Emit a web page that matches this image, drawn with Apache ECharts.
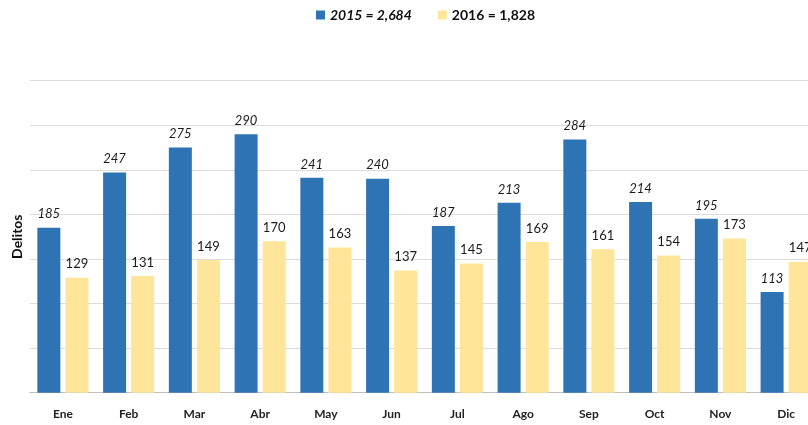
<!DOCTYPE html>
<html>
<head>
<meta charset="utf-8">
<script src="https://cdn.jsdelivr.net/npm/echarts@6/dist/echarts.min.js"></script>
<style>
  html, body { margin: 0; padding: 0; background: #ffffff; }
  #chart { width: 808px; height: 425px; }
</style>
</head>
<body>
<div id="chart"></div>
<script>
// Monthly crime counts, 2015 vs 2016
const months = ['Ene', 'Feb', 'Mar', 'Abr', 'May', 'Jun', 'Jul', 'Ago', 'Sep', 'Oct', 'Nov', 'Dic'];
const values2015 = [185, 247, 275, 290, 241, 240, 187, 213, 284, 214, 195, 113];
const values2016 = [129, 131, 149, 170, 163, 137, 145, 169, 161, 154, 173, 147];
const yTicks = { min: 0, max: 350, interval: 50 };

const sum = arr => arr.reduce((a, b) => a + b, 0);
const fmt = n => n.toLocaleString('en-US');
const name2015 = '2015 = ' + fmt(sum(values2015));
const name2016 = '2016 = ' + fmt(sum(values2016));

const FONT = 'Lato';
const chart = echarts.init(document.getElementById('chart'), null, { renderer: 'canvas' });

chart.setOption({
  animation: false,
  backgroundColor: '#ffffff',
  textStyle: { fontFamily: FONT },
  legend: {
    top: 3,
    left: 311,
    itemWidth: 9,
    itemHeight: 9,
    itemGap: 26,
    icon: 'rect',
    data: [name2015, name2016],
    formatter: function (name) {
      return name === name2015 ? '{i|' + name + '}' : '{n|' + name + '}';
    },
    textStyle: {
      rich: {
        i: { fontFamily: FONT, fontSize: 14, fontWeight: 'bold', fontStyle: 'italic', color: '#111' },
        n: { fontFamily: FONT, fontSize: 14, fontWeight: 'bold', color: '#111' }
      }
    }
  },
  // the plot runs past the right edge, so the last bar is clipped
  grid: { left: 30, top: 80.7, width: 789, height: 312, containLabel: false, outerBoundsMode: 'none' },
  xAxis: {
    type: 'category',
    data: months,
    axisLine: { lineStyle: { color: '#bfbfbf' } },
    axisTick: { alignWithLabel: false, length: 5, lineStyle: { color: '#bfbfbf' } },
    axisLabel: { color: '#222', fontWeight: 'bold', fontSize: 12, margin: 15, fontFamily: FONT }
  },
  yAxis: {
    type: 'value',
    min: yTicks.min,
    max: yTicks.max,
    interval: yTicks.interval,
    name: 'Delitos',
    nameLocation: 'middle',
    nameGap: 6,
    nameRotate: 90,
    nameTextStyle: { fontWeight: 'bold', fontSize: 14, color: '#111', fontFamily: FONT },
    axisLine: { show: false },
    axisTick: { show: false },
    axisLabel: { show: false },
    splitLine: { lineStyle: { color: '#dcdcdc', width: 1 } }
  },
  series: [
    {
      name: name2015,
      type: 'bar',
      data: values2015,
      barWidth: 23,
      barGap: '22%',
      itemStyle: { color: '#2E74B5' },
      label: {
        show: true,
        position: 'top',
        distance: 7,
        fontStyle: 'italic',
        fontSize: 13,
        color: '#1a1a1a',
        fontFamily: FONT
      }
    },
    {
      name: name2016,
      type: 'bar',
      data: values2016,
      barWidth: 23,
      itemStyle: { color: '#FFE599' },
      label: {
        show: true,
        position: 'top',
        distance: 7,
        fontSize: 13,
        color: '#1a1a1a',
        fontFamily: FONT
      }
    }
  ]
});
</script>
</body>
</html>
